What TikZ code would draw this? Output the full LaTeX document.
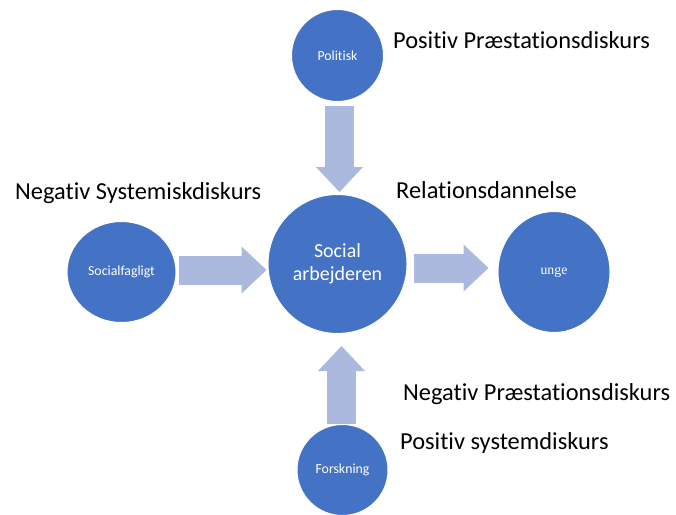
\documentclass[tikz,border=0pt]{standalone}
\usepackage{fontspec}
\setmainfont{Carlito}[Ligatures=NoCommon]
\newfontfamily\timesfont{Liberation Serif}
\usetikzlibrary{shapes.geometric,arrows.meta,backgrounds}
\usetikzlibrary{positioning}
\definecolor{circblue}{RGB}{68,114,196}
\definecolor{arrblue}{RGB}{171,185,222}

\begin{document}
\begin{tikzpicture}[x=1pt,y=-1pt,
	disc/.style={draw=white,line width=1pt,fill=circblue,text=white,inner sep=0pt,align=center,font=\fontsize{13.8}{16}\selectfont},
	blk/.style={draw=arrblue,line width=29pt,-{Triangle[length=25pt,width=47pt,line width=0pt]}},
	lbl/.style={inner sep=0pt,anchor=base west,font=\fontsize{24.4}{29}\selectfont}]
		
		\useasboundingbox (0,0) rectangle (676,514);
		
		\node[disc,circle,minimum size=139pt,font=\fontsize{20}{23}\selectfont] (sa) at (337.5,264) {Social\\arbejderen};
		\node[disc,circle,minimum size=92pt,above=92pt of sa] (pol) {Politisk};
		\node[disc,ellipse,minimum width=109pt,minimum height=101pt,left=91pt of sa,yshift=-8pt] (soc) {Socialfagligt};
		\node[disc,ellipse,minimum width=112pt,minimum height=121pt,right=90pt of sa,yshift=-8pt,font=\timesfont\fontsize{13.8}{16}\selectfont] (unge) {unge};
		\node[disc,circle,minimum size=91pt,below=90pt of sa,xshift=5pt] (frk) {Forskning};
		
		\node[lbl] (pospr) at (393,48) {Positiv Præstationsdiskurs};
		\node[lbl] (negsy) at (15,199) {Negativ Systemiskdiskurs};
		\node[lbl] (rel) at (396,198) {Relationsdannelse};
		\node[lbl] (negpr) at (403,400) {Negativ Præstationsdiskurs};
		\node[lbl] (possy) at (400,449) {Positiv systemdiskurs};
		
		\begin{scope}[on background layer]
		\fill[white] (0,0) rectangle (676,514);
		\draw[blk,shorten <=4pt,shorten >=2pt] ([xshift=2pt]pol.south) -- ([xshift=2pt]sa.north);
		\draw[blk,shorten <=2pt,shorten >=1pt] ([yshift=2pt]soc.east) -- ([yshift=2pt]soc.east -| sa.west);
		\draw[blk,shorten <=6pt,shorten >=9pt] ([yshift=-4pt]sa.east) -- ([yshift=-4pt]sa.east -| unge.west);
		\draw[blk,shorten >=12pt] ([xshift=-1pt]frk.north) -- ([xshift=-1pt]frk.north |- sa.south);
		\end{scope}
		
\end{tikzpicture}
\end{document}
